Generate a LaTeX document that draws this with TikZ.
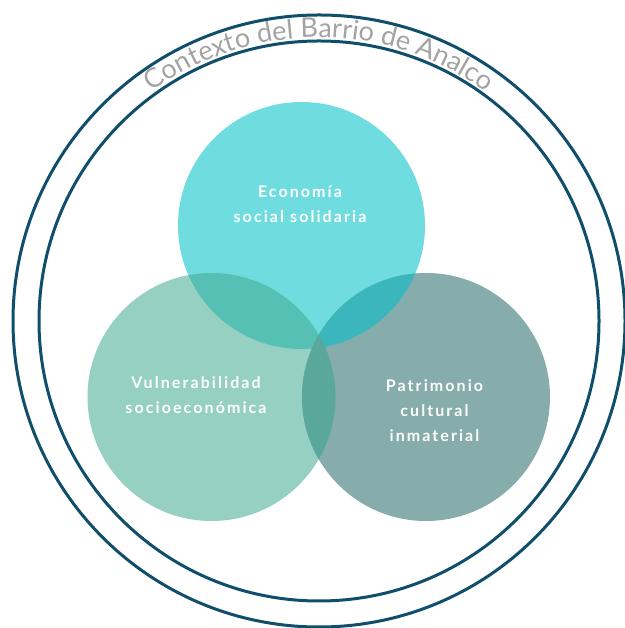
\documentclass[tikz,border=0pt]{standalone}
\usepackage{fontspec}
\setmainfont{Lato}
\newfontfamily\labelfont{Lato}[LetterSpace=13]
\newfontfamily\titlefont{Lato}
\usetikzlibrary{decorations.text}
\definecolor{ringblue}{HTML}{114E6C}
\definecolor{titlegray}{HTML}{A3A3A3}
\definecolor{topc}{HTML}{6FDDE0}
\definecolor{leftc}{HTML}{96D0C2}
\definecolor{rightc}{HTML}{86ACAB}
\definecolor{tlc}{HTML}{57C0B4}
\definecolor{trc}{HTML}{3CB6BD}
\definecolor{lrc}{HTML}{5AA89B}
\definecolor{allc}{HTML}{4AAAA6}
\tikzset{
  ring/.style={draw=ringblue, line width=3pt},
  lbl/.style={text=white, align=center, font=\labelfont\bfseries\fontsize{16}{25}\selectfont, inner sep=0pt}
}
\begin{document}
\begin{tikzpicture}[x=1pt,y=1pt]
\useasboundingbox (0,0) rectangle (624,628);
\coordinate (c) at (319,307);
\draw[ring] (c) circle[radius=306];
\draw[ring] (c) circle[radius=280];
\path[decorate, decoration={text along path, text align=center,
  text={|\titlefont\fontsize{27}{27}\selectfont\color{titlegray}|Contexto del Barrio de Analco}}]
  (c) ++(160:283.5) arc[start angle=160, end angle=20, radius=283.5];
\coordinate (ct) at (301.5,402.5);
\coordinate (cl) at (211.5,231);
\coordinate (cr) at (426,231);
\fill[topc] (ct) circle[radius=123.5];
\fill[leftc] (cl) circle[radius=124];
\fill[rightc] (cr) circle[radius=124];
\begin{scope}
  \clip (ct) circle[radius=123.5];
  \fill[tlc] (cl) circle[radius=124];
  \fill[trc] (cr) circle[radius=124];
  \clip (cl) circle[radius=124];
  \fill[allc] (cr) circle[radius=124];
\end{scope}
\begin{scope}
  \clip (cl) circle[radius=124];
  \clip (cr) circle[radius=124];
  \fill[lrc] (cr) circle[radius=124];
\end{scope}
\node[lbl] (eco) at (300,424) {Economía\\social solidaria};
\node[lbl] (vul) at (196,232.5) {Vulnerabilidad\\socioeconómica};
\node[lbl] (pat) at (434.5,217.5) {Patrimonio\\cultural\\inmaterial};
\end{tikzpicture}
\end{document}
